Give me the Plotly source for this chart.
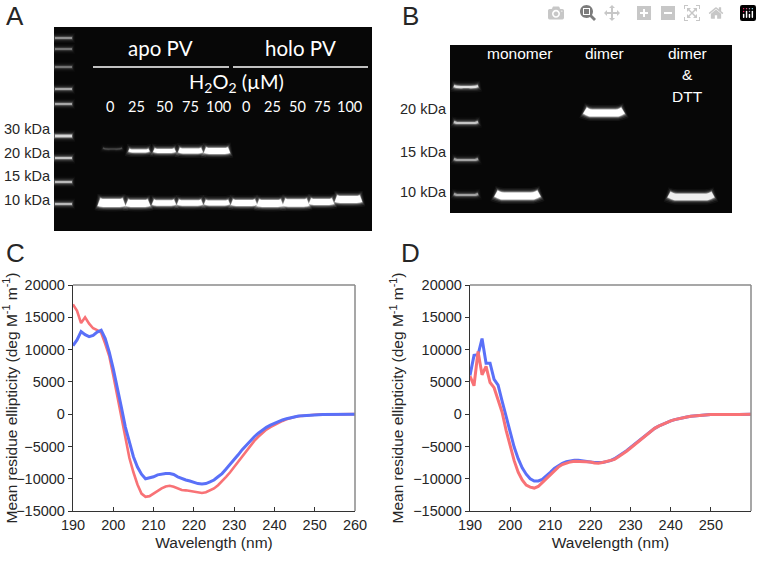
import plotly.graph_objects as go

W, H = 762, 565
FONT = "Liberation Sans"
TXT = "#262626"

wavelength = list(range(190, 261))
c_red = [17000,16000,14100,15000,14000,13300,13000,12600,10900,9000,6000,2800,-500,-3800,-6800,-9000,-10900,-12300,-12800,-12700,
         -12300,-11800,-11500,-11200,-11100,-11250,-11500,-11750,-11800,-11900,-12050,-12150,-12200,-12100,-11850,-11500,-11000,-10400,-9700,-9000,
         -8200,-7400,-6500,-5700,-4900,-4150,-3500,-2900,-2400,-2000,-1650,-1300,-1050,-800,-600,-450,-330,-250,-180,-130,
         -100,-70,-50,-40,-30,-30,-30,-20,-20,-10,0]
c_blue = [10600,11500,12800,12300,12000,12200,12700,13000,11700,9600,7000,4200,1100,-2000,-4500,-6600,-8200,-9300,-10000,-9900,
          -9700,-9400,-9250,-9200,-9200,-9350,-9700,-10000,-10200,-10350,-10550,-10750,-10800,-10750,-10500,-10200,-9700,-9200,-8500,-7800,
          -7050,-6300,-5500,-4800,-4100,-3500,-2950,-2450,-2050,-1700,-1400,-1150,-900,-700,-550,-400,-300,-230,-170,-130,
          -100,-80,-60,-50,-50,-40,-40,-30,-20,-10,0]
d_blue = [6000,9100,9200,11700,7900,7900,5400,4500,2000,-500,-3000,-5100,-6900,-8300,-9300,-10000,-10350,-10350,-10100,-9600,
          -9000,-8400,-7950,-7600,-7350,-7200,-7150,-7150,-7200,-7300,-7400,-7500,-7550,-7500,-7350,-7200,-6900,-6500,-6100,-5650,
          -5150,-4650,-4100,-3600,-3100,-2650,-2200,-1850,-1550,-1300,-1050,-850,-680,-530,-430,-340,-270,-200,-150,-100,
          -70,-50,-30,-20,-30,-40,-50,-50,-30,-20,0]
d_red = [5900,4400,9700,6100,7400,4900,4100,2000,300,-2500,-5000,-7200,-9000,-10200,-11000,-11300,-11450,-11200,-10600,-10000,
         -9400,-8700,-8200,-7800,-7550,-7400,-7300,-7300,-7300,-7350,-7400,-7550,-7600,-7500,-7350,-7250,-7000,-6600,-6200,-5750,
         -5250,-4750,-4200,-3650,-3150,-2650,-2200,-1850,-1550,-1300,-1050,-850,-680,-530,-430,-340,-270,-200,-150,-100,
         -70,-50,-30,-20,-30,-40,-50,-50,-30,-20,0]

y_ticks = [20000,15000,10000,5000,0,-5000,-10000,-15000]
x_ticks = [190,200,210,220,230,240,250,260]

# Gel bands, in gel pixels: left, right, centre y, thickness, brightness
gel_a_ladder = [(1,18,11,1.5,.45),(1,18,22,1.5,.35),(1,18,40,1.5,.35),(1,18,62,1.8,.5),(1,18,77,1.8,.5),
                (1,18,109,2.5,.7),(1,18,131,2,.6),(1,18,155,2,.55),(1,18,177,2,.55)]
gel_a_bands = [(49,68,122,1.2,.18),
               (75,95,124,3,1),(100,121,124,4,1),(125,148,124,5,1),(151,175,124,6,1),
               (45,70,176,8,1),(73,95,176.5,7,1),(99,121,176,5.5,1),(124,148,176,5.5,1),(151,175,176,5,1),
               (178,202,176,6,1),(204,228,176.5,7,1),(230,254,176,7.5,1),(256,279,175,6,1),(282,307,172.5,7,1)]
gel_b_ladder = [(4,28,42,2.2,.75),(4,28,78,2,.6),(4,28,115,2,.45),(4,28,150,2,.45)]
gel_b_bands = [(46,89,151,7,1),(135,173,68,7,1),(219,263,152,6.5,.85)]

rules_a = [(39,175,40),(179,314,40)]
lanes_a = [(110,"0"),(136,"25"),(164,"50"),(190,"75"),(218,"100"),(246,"0"),(272,"25"),(297,"50"),(322,"75"),(349,"100")]
kda_a = [("30 kDa",129),("20 kDa",153),("15 kDa",176),("10 kDa",200)]
kda_b = [("20 kDa",109),("15 kDa",152),("10 kDa",192)]


def dom(a, b, total):
    return [a / total, b / total]


fig = go.Figure()
GA = dict(x0=54, x1=372, y0=27, y1=231)
GB = dict(x0=450, x1=732, y0=45, y1=213)


def band(xa, ya, l, r, y, t, b, sag):
    m = (l + r) / 2
    layers = [(t + 9, 3, .05), (t + 6, 2, .10), (t + 3.5, 1, .2), (t + 1.5, 0.4, .45), (t, 0, 1)]
    for w, ext, alpha in layers:
        if w < 1:
            continue
        xs = [l - ext, l + (r - l) * .12, m, r - (r - l) * .12, r + ext]
        ys = [y - sag, y - sag * .1, y, y - sag * .1, y - sag]
        fig.add_trace(go.Scatter(x=xs, y=ys, xaxis=xa, yaxis=ya, mode="lines", hoverinfo="skip",
                                 line=dict(color=f"rgba(255,255,255,{alpha * b:.3f})", width=w, shape="spline", smoothing=.8),
                                 showlegend=False))


for row in gel_a_ladder:
    band("x", "y", *row, 0)
for row in gel_a_bands:
    band("x", "y", *row, 1)
for row in gel_b_ladder:
    band("x2", "y2", *row, 1)
for row in gel_b_bands:
    band("x2", "y2", *row, 2.5)
for l, r, y in rules_a:
    fig.add_trace(go.Scatter(x=[l, r], y=[y, y], xaxis="x", yaxis="y", mode="lines", hoverinfo="skip",
                             line=dict(color="white", width=1.5), showlegend=False))

BLUE, RED = "#5A70F8", "#F87276"
for xa, ya, first, second in [("x3", "y3", (c_red, RED, 2.6), (c_blue, BLUE, 3)),
                              ("x4", "y4", (d_blue, BLUE, 3), (d_red, RED, 3))]:
    for vals, col, w in (first, second):
        fig.add_trace(go.Scatter(x=wavelength, y=vals, xaxis=xa, yaxis=ya, mode="lines",
                                 line=dict(color=col, width=w), showlegend=False, cliponaxis=False))

layout = dict(
    template="none",
    width=W, height=H, margin=dict(l=0, r=0, t=0, b=0, pad=0), paper_bgcolor="white", plot_bgcolor="white",
    font=dict(family=FONT, color=TXT, size=14), showlegend=False,
    xaxis=dict(domain=dom(GA["x0"], GA["x1"], W), range=[0, GA["x1"] - GA["x0"]], visible=False, anchor="y", automargin=False),
    yaxis=dict(domain=dom(H - GA["y1"], H - GA["y0"], H), range=[GA["y1"] - GA["y0"], 0], visible=False, anchor="x", automargin=False),
    xaxis2=dict(domain=dom(GB["x0"], GB["x1"], W), range=[0, GB["x1"] - GB["x0"]], visible=False, anchor="y2", automargin=False),
    yaxis2=dict(domain=dom(H - GB["y1"], H - GB["y0"], H), range=[GB["y1"] - GB["y0"], 0], visible=False, anchor="x2", automargin=False),
)
for n, x0, x1 in [(3, 73, 355), (4, 470, 751)]:
    layout[f"xaxis{n}"] = dict(domain=dom(x0, x1, W), range=[190, 260], tickvals=x_ticks, anchor=f"y{n}", automargin=False,
                               ticks="inside", ticklen=4, tickcolor="#333", linecolor="#333", linewidth=1.3,
                               showline=True, showgrid=False, zeroline=False, tickfont=dict(size=14.5, color=TXT),
                               title=dict(text="Wavelength (nm)", font=dict(size=15.5, color=TXT), standoff=5))
    layout[f"yaxis{n}"] = dict(domain=dom(H - 511, H - 285, H), range=[-15000, 20000], tickvals=y_ticks, anchor=f"x{n}", automargin=False,
                               ticks="outside", ticklen=4, tickcolor="#333", linecolor="#333", linewidth=1.3,
                               showline=True, showgrid=False, zeroline=False, tickfont=dict(size=14.5, color=TXT),
                               tickformat="d",
                               title=dict(text="Mean residue ellipticity (deg M<sup>-1</sup> m<sup>-1</sup>)",
                                          font=dict(size=15.5, color=TXT), standoff=5))
fig.update_layout(**layout)

shapes = []
for ax, g in (("", GA), ("2", GB)):
    shapes.append(dict(type="rect", xref=f"x{ax} domain", yref=f"y{ax} domain", x0=0, x1=1, y0=0, y1=1,
                       fillcolor="#070707", line=dict(width=0), layer="below"))
for ax in ("3", "4"):
    shapes.append(dict(type="line", xref=f"x{ax} domain", yref=f"y{ax} domain", x0=0, x1=1, y0=1, y1=1,
                       line=dict(color="#8a8a8a", width=1.5), layer="above"))
    shapes.append(dict(type="line", xref=f"x{ax} domain", yref=f"y{ax} domain", x0=1, x1=1, y0=0, y1=1,
                       line=dict(color="#8a8a8a", width=1.5), layer="above"))
fig.update_layout(shapes=shapes)


def px(text, x, y, size=14, color=TXT, family=FONT, xanchor="center"):
    fig.add_annotation(text=text, x=x / W, y=1 - y / H, xref="paper", yref="paper", showarrow=False,
                       xanchor=xanchor, yanchor="middle", font=dict(size=size, color=color, family=family),
                       align="center", borderpad=0)


for t, x, y in [("A", 15, 16), ("B", 410, 16), ("C", 15, 253), ("D", 410, 253)]:
    px(t, x, y, size=26)
for t, y in kda_a:
    px(t, 52, y, size=14.5, xanchor="right")
for t, y in kda_b:
    px(t, 448, y, size=14.5, xanchor="right")
LATO = "Lato"
px("apo PV", 160, 48, size=20.5, color="white", family=LATO)
px("holo PV", 300, 48, size=20.5, color="white", family=LATO)
px("H<sub>2</sub>O<sub>2</sub> (µM)", 236, 82, size=20, color="white", family=LATO)
for x, t in lanes_a:
    px(t, x, 106, size=14.5, color="white", family=LATO)
px("monomer", 519, 54, size=15.5, color="white")
px("dimer", 604, 54, size=15.5, color="white")
px("dimer", 687, 54, size=15.5, color="white")
px("&amp;", 687, 75, size=15.5, color="white")
px("DTT", 687, 96, size=15.5, color="white")

fig.write_html("out.html", post_script="document.body.style.margin='0';")
